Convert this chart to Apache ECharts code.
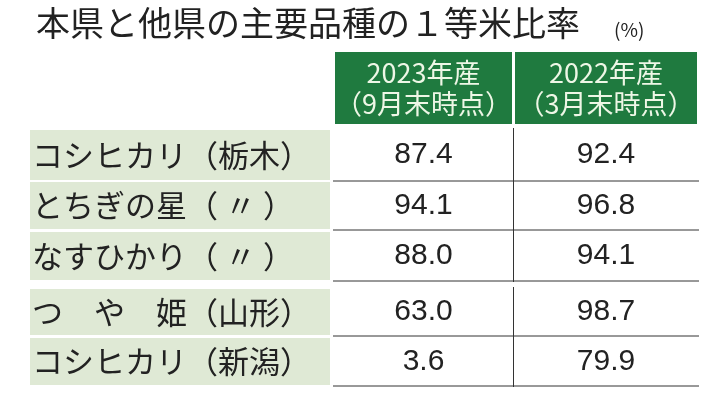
<!DOCTYPE html>
<html><head><meta charset="utf-8">
<script src="https://cdn.jsdelivr.net/npm/echarts@6/dist/echarts.min.js"></script>
<style>html,body{margin:0;background:#fff}#c{width:723px;height:400px}</style></head>
<body><div id="c"></div>
<script>
const title = "本県と他県の主要品種の１等米比率";
const unit = "(%)";
const headers = ["2023年産\n（9月末時点）", "2022年産\n（3月末時点）"];
const varieties = ["コシヒカリ（栃木）", "とちぎの星（ 〃 ）", "なすひかり（ 〃 ）", "つ　や　姫（山形）", "コシヒカリ（新潟）"];
const rate2023 = ["87.4", "94.1", "88.0", "63.0", "3.6"];
const rate2022 = ["92.4", "96.8", "94.1", "98.7", "79.9"];

// layout (pixels)
const colX = [[30, 330], [335, 512], [515, 697]];
const headY = [52, 124];
const rowY = [[130, 180], [182, 229], [232, 280], [289, 335], [338, 385]];

const cells = [];
headers.forEach((h, i) => cells.push({value: [i + 1, -1], name: h}));
varieties.forEach((v, r) => {
  cells.push({value: [0, r], name: v});
  cells.push({value: [1, r], name: rate2023[r]});
  cells.push({value: [2, r], name: rate2022[r]});
});

const chart = echarts.init(document.getElementById('c'));
chart.setOption({
  animation: false,
  graphic: [
    {type: 'text', left: 36, top: 6, style: {text: title, font: '34px "Noto Sans CJK JP"', fill: '#222'}},
    {type: 'text', left: 614, top: 20, style: {text: unit, font: '19px "Noto Sans CJK JP"', fill: '#222'}}
  ],
  grid: {left: 0, right: 0, top: 0, bottom: 0},
  xAxis: {type: 'value', min: 0, max: 723, show: false},
  yAxis: {type: 'value', min: 0, max: 400, inverse: true, show: false},
  series: [{
    type: 'custom',
    data: cells,
    renderItem: function (params, api) {
      const c = api.value(0), r = api.value(1);
      const item = cells[params.dataIndex];
      const xs = colX[c], ys = r < 0 ? headY : rowY[r];
      const p0 = api.coord([xs[0], ys[0]]), p1 = api.coord([xs[1], ys[1]]);
      const w = p1[0] - p0[0], h = p1[1] - p0[1];
      let fill, color, font, textAlign = 'center', tx = p0[0] + w / 2;
      if (r < 0) { fill = '#1f7a3f'; color = '#eef7e6'; font = '27px "Noto Sans CJK JP"'; }
      else if (c === 0) { fill = '#dfe9d5'; color = '#222'; font = '31px "Noto Sans CJK JP"'; textAlign = 'left'; tx = p0[0] + 2; }
      else { fill = '#ffffff'; color = '#222'; font = '30px "Liberation Sans"'; }
      const children = [{type: 'rect', shape: {x: p0[0], y: p0[1], width: w, height: h}, style: {fill: fill}}];
      if (r >= 0 && c > 0) {
        children.push({type: 'line', shape: {x1: p0[0] - 2, y1: p1[1] + 1, x2: p1[0] + 2, y2: p1[1] + 1}, style: {stroke: '#333', lineWidth: 1}});
        if (c === 1) children.push({type: 'line', shape: {x1: p1[0] + 1.5, y1: p0[1] - 2, x2: p1[0] + 1.5, y2: p1[1] + 2}, style: {stroke: '#333', lineWidth: 1}});
      }
      children.push({type: 'text', style: {text: item.name, x: tx, y: p0[1] + h / 2, align: textAlign, verticalAlign: 'middle', font: font, fill: color, lineHeight: r < 0 ? 31 : 32}});
      return {type: 'group', children: children};
    }
  }]
});
</script></body></html>
